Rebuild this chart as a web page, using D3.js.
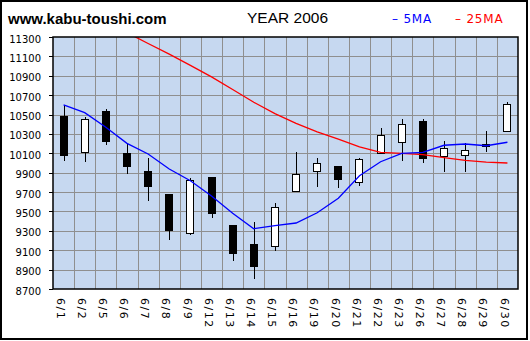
<!DOCTYPE html>
<html>
<head>
<meta charset="utf-8">
<script src="https://cdn.jsdelivr.net/npm/d3@7"></script>
<style>
  html, body { margin: 0; padding: 0; background: #fff; }
  svg { display: block; }
</style>
</head>
<body>
<script>
// Daily candles, June 2006
const dates = ["6/1","6/2","6/5","6/6","6/7","6/8","6/9","6/12","6/13","6/14","6/15",
               "6/16","6/19","6/20","6/21","6/22","6/23","6/26","6/27","6/28","6/29","6/30"];
const opens  = [10475,10110,10535,10095, 9915, 9670, 9275, 9850, 9360, 9155, 9135,
                 9705, 9910, 9960, 9800,10100,10215,10425,10070,10080,10195,10325];
const highs  = [10600,10470,10555,10195,10050, 9670, 9845, 9855, 9360, 9390, 9590,
                10115,10050, 9960,10050,10360,10455,10455,10225,10205,10330,10630];
const lows   = [10025,10015,10190, 9890, 9610, 9205, 9255, 9435, 8990, 8805, 9095,
                 9700, 9755, 9745, 9765,10100,10025, 9995, 9910, 9910,10115,10325];
const closes = [10075,10450,10220, 9960, 9755, 9300, 9815, 9480, 9065, 8930, 9545,
                 9885,10000, 9825,10040,10280,10400,10045,10150,10130,10170,10605];
// Moving averages
const ma5  = [10600,10519,10368,10203,10093, 9938, 9817, 9660, 9481, 9322, 9353,
               9381, 9487, 9636, 9869,10013,10100,10110,10183,10196,10178,10214];
const ma25 = [null, null, null, 11345,11233,11123,11007,10888,10759,10627,10509,
              10409,10321,10246,10167,10110,10100,10086,10055,10028,10010,10000];
const yTicks = [8700,8900,9100,9300,9500,9700,9900,10100,10300,10500,10700,10900,11100,11300];

const W = 530, H = 341;
const plot = { left: 53, right: 518, top: 37, bottom: 289 };

const svg = d3.select("body").append("svg")
  .attr("width", W).attr("height", H);

// outer frame
svg.append("rect")
  .attr("x", 1).attr("y", 1).attr("width", 526).attr("height", 338)
  .attr("fill", "#fff").attr("stroke", "#000").attr("stroke-width", 2);

const x = d3.scaleBand().domain(dates).range([plot.left, plot.right]).padding(0);
const y = d3.scaleLinear().domain([8700, 11300]).range([plot.bottom, plot.top]);
const bw = x.bandwidth();
const cx = d => x(d) + bw / 2;

// plot background
svg.append("rect")
  .attr("x", plot.left).attr("y", plot.top)
  .attr("width", plot.right - plot.left).attr("height", plot.bottom - plot.top)
  .attr("fill", "#C6D8F0");

// grid
const grid = svg.append("g").attr("stroke", "#8f8f8f").attr("stroke-width", 1)
  .attr("shape-rendering", "crispEdges");
grid.selectAll("line.h").data(yTicks.slice(1, -1)).join("line")
  .attr("x1", plot.left).attr("x2", plot.right)
  .attr("y1", d => Math.round(y(d)) + 0.5).attr("y2", d => Math.round(y(d)) + 0.5);
grid.selectAll("line.v").data(dates.slice(1)).join("line")
  .attr("y1", plot.top).attr("y2", plot.bottom)
  .attr("x1", d => Math.round(x(d)) + 0.5).attr("x2", d => Math.round(x(d)) + 0.5);

// y axis
const yAxis = svg.append("g")
  .attr("transform", `translate(${plot.left},0)`)
  .call(d3.axisLeft(y).tickValues(yTicks).tickSize(4).tickPadding(8).tickFormat(d3.format("d")));
yAxis.select(".domain").remove();
yAxis.selectAll(".tick line").attr("stroke", "#000").attr("shape-rendering", "crispEdges");
yAxis.selectAll(".tick text")
  .attr("font-family", "DejaVu Sans, sans-serif").attr("font-size", 10)
  .attr("fill", "#000").attr("dy", "0.5em");

// x labels, rotated
const xAxis = svg.append("g")
  .attr("transform", `translate(0,${plot.bottom})`)
  .call(d3.axisBottom(x).tickSize(0).tickPadding(0));
xAxis.select(".domain").remove();
xAxis.selectAll(".tick text")
  .attr("font-family", "DejaVu Sans, sans-serif").attr("font-size", 11)
  .attr("letter-spacing", 1.5).attr("fill", "#000")
  .attr("text-anchor", "start").attr("dy", null).attr("y", 0)
  .attr("transform", "translate(-6.8,9) rotate(90)");

const clip = svg.append("clipPath").attr("id", "plotclip").append("rect")
  .attr("x", plot.left).attr("y", plot.top)
  .attr("width", plot.right - plot.left).attr("height", plot.bottom - plot.top);

const marks = svg.append("g").attr("clip-path", "url(#plotclip)");

// candles
const idx = d3.range(dates.length);
const bodyW = 7;
marks.append("g").selectAll("line").data(idx).join("line")
  .attr("x1", i => Math.round(cx(dates[i])) + 0.5).attr("x2", i => Math.round(cx(dates[i])) + 0.5)
  .attr("y1", i => y(highs[i])).attr("y2", i => y(lows[i]))
  .attr("stroke", "#000").attr("stroke-width", 1).attr("shape-rendering", "crispEdges");
marks.append("g").selectAll("rect").data(idx).join("rect")
  .attr("x", i => Math.round(cx(dates[i])) - 3.5)
  .attr("width", bodyW)
  .attr("y", i => y(Math.max(opens[i], closes[i])))
  .attr("height", i => Math.max(1, Math.abs(y(opens[i]) - y(closes[i]))))
  .attr("fill", i => closes[i] >= opens[i] ? "#fff" : "#000")
  .attr("stroke", "#000").attr("stroke-width", 1).attr("shape-rendering", "crispEdges");

// moving average lines
const line = d3.line().defined(d => d.v != null).x(d => cx(d.d)).y(d => y(d.v));
marks.append("path")
  .datum(dates.map((d, i) => ({ d, v: ma25[i] })))
  .attr("d", line).attr("fill", "none").attr("stroke", "#ff0000").attr("stroke-width", 1.3);
marks.append("path")
  .datum(dates.map((d, i) => ({ d, v: ma5[i] })))
  .attr("d", line).attr("fill", "none").attr("stroke", "#0000ff").attr("stroke-width", 1.3);

// plot border
svg.append("rect")
  .attr("x", plot.left).attr("y", plot.top)
  .attr("width", plot.right - plot.left).attr("height", plot.bottom - plot.top)
  .attr("fill", "none").attr("stroke", "#000").attr("stroke-width", 1.5);

// header
svg.append("text").attr("x", 8).attr("y", 24)
  .attr("font-family", "Liberation Sans, Arial, sans-serif").attr("font-size", 15)
  .attr("font-weight", "bold").text("www.kabu-toushi.com");
svg.append("text").attr("x", 247).attr("y", 23)
  .attr("font-family", "Liberation Sans, Arial, sans-serif").attr("font-size", 15.5)
  .text("YEAR 2006");
svg.append("text").attr("x", 392).attr("y", 23)
  .attr("font-family", "DejaVu Sans, sans-serif").attr("font-size", 12)
  .attr("letter-spacing", 0.8).attr("fill", "#0000ff").text("– 5MA");
svg.append("text").attr("x", 455).attr("y", 23)
  .attr("font-family", "DejaVu Sans, sans-serif").attr("font-size", 12)
  .attr("letter-spacing", 0.8).attr("fill", "#ff0000").text("– 25MA");
</script>
</body>
</html>
